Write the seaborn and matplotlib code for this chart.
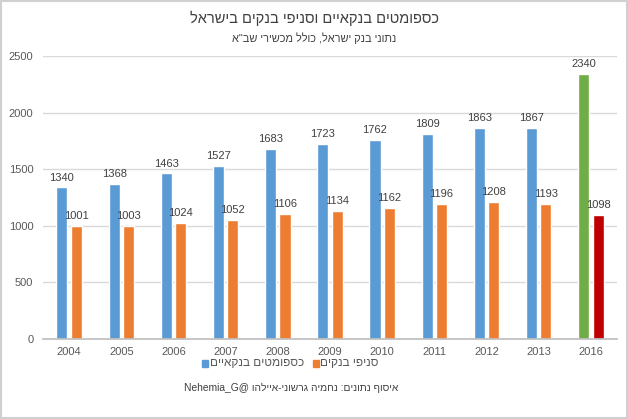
import matplotlib
matplotlib.use('Agg')
import matplotlib.pyplot as plt
from matplotlib.patches import Rectangle
import numpy as np
import pandas as pd
import seaborn as sns

years = ['2004', '2005', '2006', '2007', '2008', '2009', '2010', '2011', '2012', '2013', '2016']
atms = [1340, 1368, 1463, 1527, 1683, 1723, 1762, 1809, 1863, 1867, 2340]
branches = [1001, 1003, 1024, 1052, 1106, 1134, 1162, 1196, 1208, 1193, 1098]

atm_label = 'כספומטים בנקאיים'
branch_label = 'סניפי בנקים'
title = 'כספומטים בנקאיים וסניפי בנקים בישראל'
subtitle = 'נתוני בנק ישראל, כולל מכשירי שב"א'
credit = 'איסוף נתונים: נחמיה גרשוני-איילהו'
yticks = [0, 500, 1000, 1500, 2000, 2500]


def vis(s):
    # matplotlib has no bidi, so feed hebrew in visual order
    return s[::-1]


blue, orange, green, red = '#5B9BD5', '#ED7D31', '#70AD47', '#C00000'
txt = '#595959'

sns.set_theme(style='white')
plt.rcParams['font.family'] = ['Liberation Sans', 'DejaVu Sans']

df = pd.DataFrame({
    'year': years * 2,
    'value': atms + branches,
    'series': [atm_label] * len(years) + [branch_label] * len(years),
})

fig = plt.figure(figsize=(6.28, 4.19), dpi=100)
ax = fig.add_axes([0.0685, 0.191, 0.914, 0.675])

sns.barplot(data=df, x='year', y='value', hue='series', order=years,
            hue_order=[atm_label, branch_label], palette=[blue, orange],
            width=0.55, gap=0.23, ax=ax, legend=False, saturation=1)

special = [green, red]
for i, cont in enumerate(ax.containers):
    cont.patches[-1].set_facecolor(special[i])
    ax.bar_label(cont, fmt='%d', padding=3.5, fontsize=8, color='#404040')

ax.set_ylim(0, 2500)
ax.set_xlim(-0.5, len(years) - 0.5)
ax.set_yticks(yticks)
ax.yaxis.grid(True, color='#D9D9D9', lw=1)
ax.set_axisbelow(True)
for s in ['top', 'right', 'left']:
    ax.spines[s].set_visible(False)
ax.spines['bottom'].set_color('#BFBFBF')
ax.tick_params(axis='both', length=0, labelsize=8, colors=txt, pad=6)
ax.tick_params(axis='y', pad=7)
ax.set_xlabel('')
ax.set_ylabel('')

fig.text(0.5, 0.955, vis(title), ha='center', va='center', fontsize=10.5, color='#404040')
fig.text(0.5, 0.910, vis(subtitle), ha='center', va='center', fontsize=7.9, color='#404040')

# legend drawn by hand: marker left of text, blue item first
ly = 0.134
fig.add_artist(Rectangle((0.321, ly - 0.009), 0.010, 0.017, color=blue, transform=fig.transFigure))
fig.text(0.334, ly, vis(atm_label), ha='left', va='center', fontsize=8.5, color=txt)
fig.add_artist(Rectangle((0.498, ly - 0.009), 0.010, 0.017, color=orange, transform=fig.transFigure))
fig.text(0.509, ly, vis(branch_label), ha='left', va='center', fontsize=8.5, color=txt)

fig.text(0.463, 0.075, 'Nehemia_G@ ' + vis(credit), ha='center', va='center', fontsize=7.4, color='#404040')

fig.add_artist(Rectangle((0.001, 0.002), 0.997, 0.996, fill=False, ec='#D0D0D0', lw=1.5,
                         transform=fig.transFigure))

fig.savefig('out.png', dpi=100)
